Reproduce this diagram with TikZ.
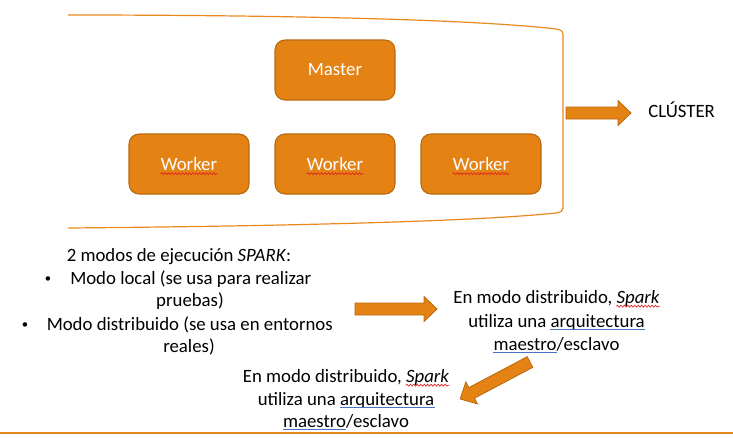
\documentclass[tikz,border=0pt]{standalone}
\usepackage{fontspec}
\setmainfont{Carlito}
\usetikzlibrary{decorations.pathmorphing}
\definecolor{orfill}{HTML}{E48213}
\definecolor{ordraw}{HTML}{B8690F}
\definecolor{orline}{HTML}{E8891E}
\definecolor{sqred}{HTML}{E02424}
\definecolor{ulblue}{HTML}{4A72C8}
\tikzset{
  txt/.style={inner sep=0pt, font=\fontsize{14.1}{17}\selectfont},
  ghost/.style={inner sep=0pt, font=\fontsize{14.1}{17}\selectfont},
  bulletnode/.style={inner sep=0pt, font=\fontsize{9.5}{12}\selectfont},
  boxnode/.style={draw=ordraw, line width=0.8pt, fill=orfill, rounded corners=7.5pt,
    minimum width=90pt, minimum height=45pt, inner sep=0pt, text=white,
    font=\fontsize{14.1}{17}\selectfont},
  fatarrowstyle/.style={draw=ordraw, line width=0.6pt, fill=orfill},
  pics/fatarrow/.style={code={
    \draw[fatarrowstyle] (0,-6) -- (#1-13,-6) -- (#1-13,-12.5) -- (#1,0)
      -- (#1-13,12.5) -- (#1-13,6) -- (0,6) -- cycle;}},
  squig/.style={draw=sqred, line width=0.5pt, decorate,
    decoration={snake, segment length=2.6pt, amplitude=0.75pt}},
  dblul/.style={draw=ulblue, line width=0.45pt, double=white, double distance=0.8pt},
}
\newcommand\wavyunder[1]{%
  \draw[squig] ([yshift=-2.4pt]#1.base west) -- ([yshift=-2.4pt]#1.base east);}
\newcommand\dblunder[1]{%
  \draw[dblul] ([yshift=-2.4pt]#1.base west) -- ([yshift=-2.4pt]#1.base east);}
\begin{document}
\begin{tikzpicture}[x=0.75pt,y=-0.75pt]
\useasboundingbox (0,0) rectangle (733,437);
% cluster bracket
\draw[orline, line width=0.9pt]
  (68,15) .. controls (300,15) and (480,20) .. (556,29)
  .. controls (561,30) and (563,31) .. (563,35)
  -- (563,208)
  .. controls (563,211) and (561,212) .. (556,213)
  .. controls (480,221) and (300,226) .. (68,228);
% boxes
\node[boxnode] (master) at (335,70) {Master};
\node[boxnode] (w1) at (189,164) {Worker};
\node[boxnode] (w2) at (335,164) {Worker};
\node[boxnode] (w3) at (481,164) {Worker};
\node[ghost] (w1t) at (w1.center) {\phantom{Worker}};
\node[ghost] (w2t) at (w2.center) {\phantom{Worker}};
\node[ghost] (w3t) at (w3.center) {\phantom{Worker}};
\wavyunder{w1t}
\wavyunder{w2t}
\wavyunder{w3t}
% cluster arrow and label
\pic at (566,113) {fatarrow=65};
\node[txt, anchor=base west] (cluster) at (648,117) {CLÚSTER};
% left text
\node[txt, anchor=base] (l1) at (179,261) {2 modos de ejecución \textit{SPARK}:};
\node[bulletnode, anchor=base] (b2) at (48,282) {•};
\node[txt, anchor=base west] (l2) at (70,284) {Modo local (se usa para realizar};
\node[txt, anchor=base] (l3) at (190,306) {pruebas)};
\node[bulletnode, anchor=base] (b4) at (25,328) {•};
\node[txt, anchor=base west] (l4) at (46.5,330) {Modo distribuido (se usa en entornos};
\node[txt, anchor=base] (l5) at (189,352) {reales)};
% middle arrow
\pic at (355,309) {fatarrow=82};
% right text
\node[txt, anchor=base] (r1) at (556.5,303) {En modo distribuido, \textit{Spark}};
\node[txt, anchor=base] (r2) at (556.5,327) {utiliza una arquitectura};
\node[txt, anchor=base] (r3) at (556.5,350) {maestro/esclavo};
\node[ghost, anchor=base east] (r1s) at (r1.base east) {\phantom{\textit{Spark}}};
\node[ghost, anchor=base east] (r2a) at (r2.base east) {\phantom{arquitectura}};
\node[ghost, anchor=base west] (r3m) at (r3.base west) {\phantom{maestro}};
\wavyunder{r1s}
\dblunder{r2a}
\dblunder{r3m}
% diagonal arrow
\pic[rotate=207.9] at (530,362) {fatarrow=79};
% bottom text
\node[txt, anchor=base] (s1) at (346,382) {En modo distribuido, \textit{Spark}};
\node[txt, anchor=base] (s2) at (346,405) {utiliza una arquitectura};
\node[txt, anchor=base] (s3) at (346,427) {maestro/esclavo};
\node[ghost, anchor=base east] (s1s) at (s1.base east) {\phantom{\textit{Spark}}};
\node[ghost, anchor=base east] (s2a) at (s2.base east) {\phantom{arquitectura}};
\node[ghost, anchor=base west] (s3m) at (s3.base west) {\phantom{maestro}};
\wavyunder{s1s}
\dblunder{s2a}
\dblunder{s3m}
% bottom rule
\draw[orline, line width=2.2pt] (0,433) -- (733,433);
\end{tikzpicture}
\end{document}
